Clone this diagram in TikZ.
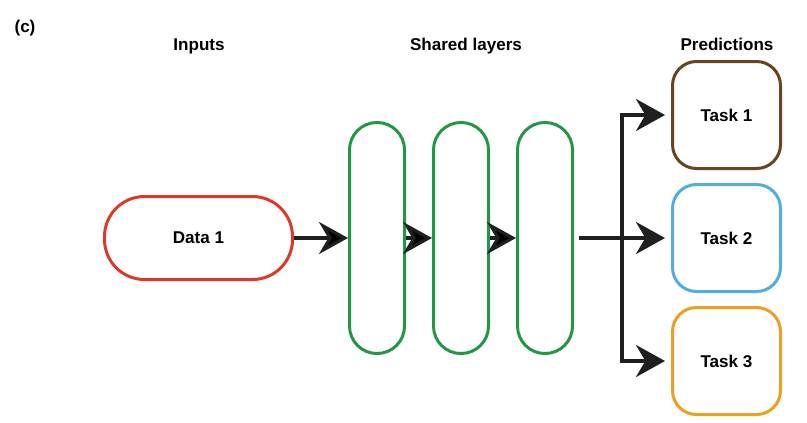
\documentclass[tikz,border=0pt]{standalone}
\usepackage{fontspec}
\setmainfont{Liberation Sans}
\usetikzlibrary{arrows.meta,positioning}
\definecolor{datared}{RGB}{222,56,44}
\definecolor{layergreen}{RGB}{36,150,72}
\definecolor{taskbrown}{RGB}{104,68,32}
\definecolor{taskblue}{RGB}{82,174,224}
\definecolor{taskorange}{RGB}{240,158,32}

\begin{document}
\begin{tikzpicture}[x=0.75pt,y=-0.75pt,node distance=19.5pt,>={Stealth[length=21.75pt,width=24pt,inset=7pt]},every node/.append style={align=center,font=\fontsize{12.8}{15}\selectfont\bfseries},inbox/.style={draw=datared,line width=2.25pt,rounded corners=30pt,minimum width=141pt,minimum height=62.25pt},layer/.style={draw=layergreen,line width=2.25pt,rounded corners=20.5pt,minimum width=41.25pt,minimum height=173.25pt},task/.style={line width=2.25pt,rounded corners=18pt,minimum width=81pt,minimum height=80.25pt},link/.style={line width=2.4pt,draw=black!88}]
    \useasboundingbox[fill=white] (0,0) rectangle (807,422);

    % headings
    \node[anchor=base] (lab) at (25,32) {(c)};
    \node[anchor=base] (hin) at (199,50) {Inputs};
    \node[anchor=base] (hsh) at (466,50) {Shared layers};
    \node[anchor=base] (hpr) at (727,50) {Predictions};

    \node [inbox] (data) at (198.5,238) {Data 1};
    \node [layer, right=40.5pt of data] (L1) {};
    \node [layer, right=of L1] (L2) {};
    \node [layer, right=of L2] (L3) {};
    \node [task, draw=taskblue, right=72.75pt of L3] (T2) {Task 2};
    \node [task, draw=taskbrown, above=9.75pt of T2] (T1) {Task 1};
    \node [task, draw=taskorange, below=9.75pt of T2] (T3) {Task 3};
    \coordinate[right=36pt of L3] (fork);

    \path[link,->] (data) edge (L1)
                   (L1) edge (L2)
                   (L2) edge (L3);
    \draw[link,->,shorten <=3.75pt,shorten >=4.5pt] (L3) -- (T2);
    \draw[link,->,shorten >=4.5pt] (fork) |- (T1);
    \draw[link,->,shorten >=4.5pt] (fork) |- (T3);
\end{tikzpicture}
\end{document}
